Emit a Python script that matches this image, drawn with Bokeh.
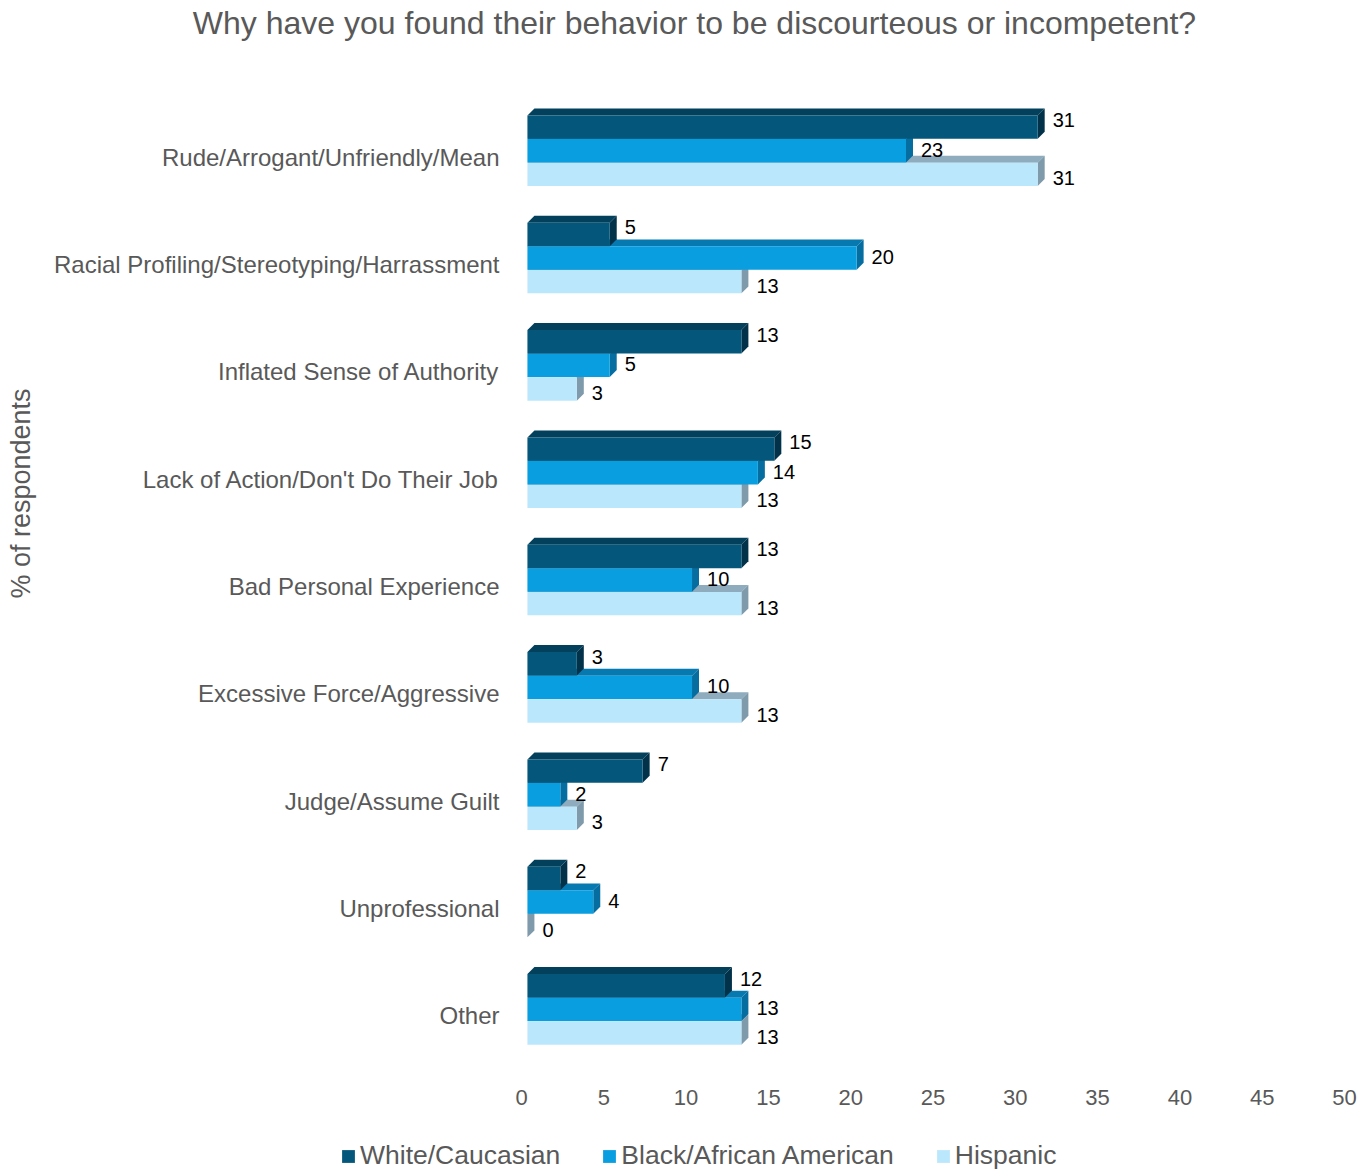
import numpy as np
from bokeh.plotting import figure
from bokeh.models import Range1d, FixedTicker, Legend, LegendItem, ColumnDataSource, Label
from bokeh.embed import file_html
from bokeh.resources import INLINE
from bokeh.core.properties import value

# ---------------- data ----------------
title_text = "Why have you found their behavior to be discourteous or incompetent?"
y_label_text = "% of respondents"
categories = [
    "Rude/Arrogant/Unfriendly/Mean",
    "Racial Profiling/Stereotyping/Harrassment",
    "Inflated Sense of Authority",
    "Lack of Action/Don't Do Their Job",
    "Bad Personal Experience",
    "Excessive Force/Aggressive",
    "Judge/Assume Guilt",
    "Unprofessional",
    "Other",
]
series_names = ["White/Caucasian", "Black/African American", "Hispanic"]
white = [31, 5, 13, 15, 13, 3, 7, 2, 12]
black = [23, 20, 5, 14, 10, 10, 2, 4, 13]
hispanic = [31, 13, 3, 13, 13, 13, 3, 0, 13]
x_ticks = [0, 5, 10, 15, 20, 25, 30, 35, 40, 45, 50]
x_min, x_max = 0, 50

# ---------------- style / layout (pixels) ----------------
FONT = "Liberation Sans"
GREY = "#595959"
front_colors = ["#04577a", "#089ee0", "#bbe7fc"]
top_colors = ["#03405c", "#0679b0", "#8eacbd"]
side_colors = ["#02324a", "#066da0", "#7e9aab"]
X0 = 0.36      # front-face start (depth shift)
DX = 0.425     # depth in x (data units)
DY = 0.065     # depth in y (data units)
H = 0.218      # bar thickness
offsets = [0.28, 0.06, -0.16]
label_shift_px = [7, 1, -4]    # value-label vertical nudge per series (up = +)

W, HT = 1368, 1172
PLOT_L, PLOT_R = 521, 1344     # pixel span of x 0..50
PLOT_T, PLOT_B = 103, 1069     # pixel span of the category band

n = len(categories)
y_lo, y_hi = -0.5, n - 0.5
sx = (PLOT_R - PLOT_L) / (x_max - x_min)
sy = (PLOT_B - PLOT_T) / (y_hi - y_lo)
xr = Range1d(x_min - PLOT_L / sx, x_max + (W - PLOT_R) / sx)
yr = Range1d(y_lo - (HT - PLOT_B) / sy, y_hi + PLOT_T / sy)

p = figure(width=W, height=HT, output_backend="svg", toolbar_location=None,
           x_range=xr, y_range=yr,
           min_border_left=0, min_border_right=0, min_border_top=0, min_border_bottom=0)
p.outline_line_color = None
p.xgrid.grid_line_color = None
p.ygrid.grid_line_color = None

pos = np.array([n - 1 - i for i in range(n)], dtype=float)
series = [white, black, hispanic]

front_renderers = [None, None, None]
label_sources = []
for s in [2, 1, 0]:
    vals = np.array(series[s], dtype=float)
    cy = pos + offsets[s]
    bottom = cy - H / 2
    top = cy + H / 2
    right = X0 + vals
    top_xs = [[X0, r, r + DX, X0 + DX] for r in right]
    top_ys = [[t, t, t + DY, t + DY] for t in top]
    side_xs = [[r, r + DX, r + DX, r] for r in right]
    side_ys = [[b, b + DY, t + DY, t] for b, t in zip(bottom, top)]
    p.patches(top_xs, top_ys, fill_color=top_colors[s], line_color=None)
    p.patches(side_xs, side_ys, fill_color=side_colors[s], line_color=None)
    front_renderers[s] = p.quad(left=X0, right=right, bottom=bottom, top=top,
                                fill_color=front_colors[s], line_color=None)
    label_sources.append(ColumnDataSource(dict(x=right + DX, y=cy + label_shift_px[s] / sy,
                                               t=[str(int(v)) for v in vals])))

for src in label_sources:
    p.text(x="x", y="y", text="t", source=src, x_offset=8,
           text_align="left", text_baseline="middle",
           text_font=value(FONT), text_font_size="20px", text_color="black")

# axes drawn at fixed data locations inside the canvas
p.xaxis.fixed_location = y_lo
p.xaxis.ticker = FixedTicker(ticks=x_ticks)
p.xaxis.axis_line_color = None
p.xaxis.major_tick_line_color = None
p.xaxis.minor_tick_line_color = None
p.xaxis.major_label_text_font = FONT
p.xaxis.major_label_text_font_size = "22px"
p.xaxis.major_label_text_color = GREY
p.xaxis.major_label_standoff = 14

p.yaxis.fixed_location = x_min
p.yaxis.ticker = FixedTicker(ticks=list(range(n)))
p.yaxis.major_label_overrides = {int(n - 1 - i): c for i, c in enumerate(categories)}
p.yaxis.axis_line_color = None
p.yaxis.major_tick_line_color = None
p.yaxis.minor_tick_line_color = None
p.yaxis.major_label_text_font = FONT
p.yaxis.major_label_text_font_size = "24px"
p.yaxis.major_label_text_color = GREY
p.yaxis.major_label_standoff = 16

# title and y-axis label (screen units from the canvas bottom-left)
p.add_layout(Label(x=694, y=HT - 22, x_units="screen", y_units="screen", text=title_text,
                   text_align="center", text_baseline="middle",
                   text_font=FONT, text_font_size="32px", text_color=GREY))
p.add_layout(Label(x=20, y=HT - 493, x_units="screen", y_units="screen", text=y_label_text,
                   angle=np.pi / 2, text_align="center", text_baseline="middle",
                   text_font=FONT, text_font_size="27px", text_color=GREY))

legend = Legend(items=[LegendItem(label=series_names[s], renderers=[front_renderers[s]]) for s in range(3)],
                orientation="horizontal", location=(340, 1))
legend.glyph_width = 16
legend.glyph_height = 16
legend.label_standoff = 4
legend.spacing = 41
legend.padding = 0
legend.margin = 0
legend.border_line_color = None
legend.background_fill_alpha = 0
legend.label_text_font = FONT
legend.label_text_font_size = "26.5px"
legend.label_text_color = GREY
legend.label_height = 30
p.add_layout(legend, "center")

open("out.html", "w").write(file_html(p, INLINE))
